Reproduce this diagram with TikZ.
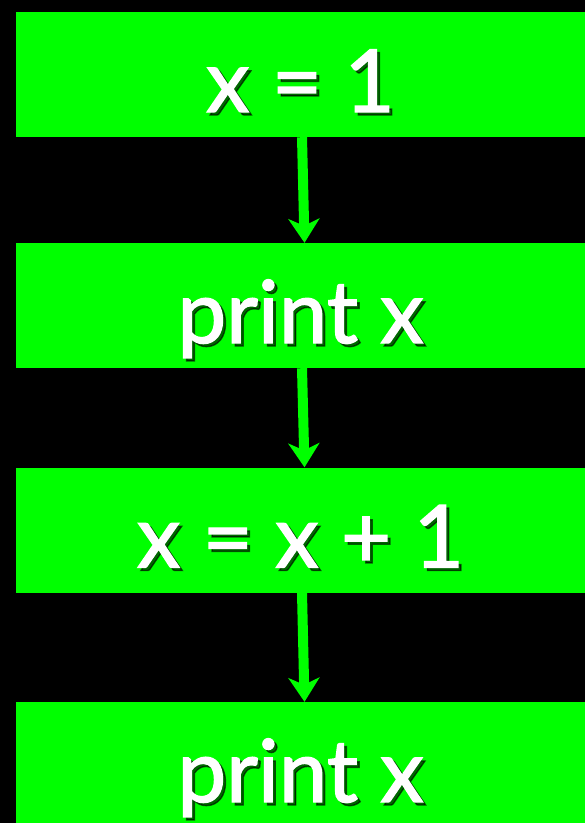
\documentclass[tikz,border=0pt]{standalone}
\usepackage{fontspec}
\setmainfont{Lato}
\newfontfamily\slidefont{Lato}[FakeBold=1.6]
\usetikzlibrary{positioning, arrows.meta}
\definecolor{stepgreen}{RGB}{0, 255, 0}

\begin{document}
\begin{tikzpicture}[x=1pt, y=-1pt,
        box/.style={fill=stepgreen, draw=none, minimum width=569pt,
                    minimum height=125pt, inner sep=0pt},
        txt/.style={font=\slidefont\fontsize{87}{87}\selectfont, text=white,
                    anchor=base, inner sep=0pt},
        shade/.style={txt, text=black, opacity=0.6},
        flow/.style={draw=stepgreen, line width=10pt,
                     -{Stealth[length=24pt, width=31pt, inset=7pt]}}
    ]

    \fill[black] (0, 0) rectangle (585, 823);
    \clip (0, 0) rectangle (585, 823);

    \node[box] (init) at (300.5, 74.5) {};
    \node[box] (show) at (300.5, 305.5) {};
    \node[box] (incr) at (300.5, 530) {};
    \node[box] (again) at (300.5, 764.5) {};

    % text with drop shadow
    \foreach \n/\t in {init/{x = 1}, show/{print x}, incr/{x = x + 1}, again/{print x}} {
        \node[shade] at ([xshift=3pt, yshift=-40.5pt]\n.center) {\t};
        \node[txt] at ([yshift=-37.5pt]\n.center) {\t};
    }

    \draw[flow] ([xshift=1.5pt]init.south) -- ([xshift=4pt]show.north);
    \draw[flow] ([xshift=1.5pt]show.south) -- ([xshift=4pt]incr.north);
    \draw[flow] ([xshift=1.5pt]incr.south) -- ([xshift=4pt]again.north);

\end{tikzpicture}
\end{document}
